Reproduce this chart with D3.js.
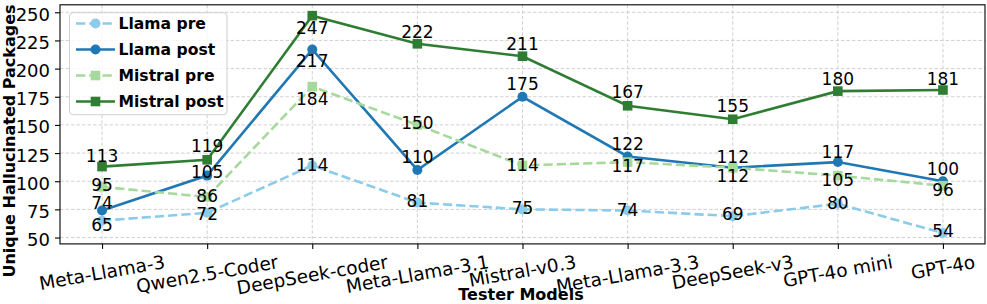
<!DOCTYPE html>
<html><head><meta charset="utf-8">
<script src="https://cdn.jsdelivr.net/npm/d3@7"></script>
<style>body{margin:0;background:#fff} svg{display:block} text{font-family:"DejaVu Sans"}</style>
</head><body><svg id="c" width="987" height="304"></svg>
<script>
const categories = ["Meta-Llama-3","Qwen2.5-Coder","DeepSeek-coder","Meta-Llama-3.1","Mistral-v0.3","Meta-Llama-3.3","DeepSeek-v3","GPT-4o mini","GPT-4o"];
const llamaPre    = [65, 72, 114, 81, 75, 74, 69, 80, 54];
const llamaPost   = [74, 105, 217, 110, 175, 122, 112, 117, 100];
const mistralPre  = [95, 86, 184, 150, 114, 117, 112, 105, 96];
const mistralPost = [113, 119, 247, 222, 211, 167, 155, 180, 181];
const yTicks = [50, 75, 100, 125, 150, 175, 200, 225, 250];
const seriesNames = ["Llama pre", "Llama post", "Mistral pre", "Mistral post"];

// label vertical offsets (px, relative to point) — styling only
const labelOffsets = [
  [4, 1, -1, -1.5, -2, -1, -2, -0.6, -2],
  [-8, -4, 11, -13, -12.7, -12.6, -10.6, -10.6, -12.3],
  [-1.6, -1, 12, -2, -1, 3.5, 7.6, 4.3, 4],
  [-11, -14, 12, -12, -12, -13.5, -13.2, -12.3, -11.5]
];
const styles = [
  {color: "#8ccbea", dash: "9.25,4", marker: "circle"},
  {color: "#1f77b4", dash: null, marker: "circle"},
  {color: "#a6d99c", dash: "9.25,4", marker: "square"},
  {color: "#2e7d32", dash: null, marker: "square"}
];
const series = [llamaPre, llamaPost, mistralPre, mistralPost];

const svg = d3.select("#c");
const L = 60, R = 985, T = 4.8, B = 243.9;
const yMin = 54, yMax = 247, m = (yMax - yMin) * 0.05;
const x = d3.scaleLinear().domain([-0.4, categories.length - 1 + 0.4]).range([L, R]);
const y = d3.scaleLinear().domain([yMin - m, yMax + m]).range([B, T]);

// grid
const grid = svg.append("g");
grid.selectAll(".gy").data(yTicks).join("line")
  .attr("x1", L).attr("x2", R).attr("y1", d => y(d)).attr("y2", d => y(d))
  .attr("stroke", "#cccccc").attr("stroke-width", 0.9).attr("stroke-dasharray", "3.5,2");
grid.selectAll(".gx").data(categories).join("line")
  .attr("x1", (d, i) => x(i)).attr("x2", (d, i) => x(i)).attr("y1", T).attr("y2", B)
  .attr("stroke", "#cccccc").attr("stroke-width", 0.9).attr("stroke-dasharray", "3.5,2");

// y axis
const yAxis = svg.append("g").attr("transform", `translate(${L},0)`)
  .call(d3.axisLeft(y).tickValues(yTicks).tickSize(5).tickPadding(5));
yAxis.select(".domain").remove();
yAxis.selectAll(".tick line").attr("stroke", "#000").attr("stroke-width", 1.1);
yAxis.selectAll(".tick text").attr("font-family", "DejaVu Sans").attr("font-size", 18)
  .attr("fill", "#000").attr("dy", null).attr("y", 8);

// x axis
const xAxis = svg.append("g").attr("transform", `translate(0,${B})`)
  .call(d3.axisBottom(x).tickValues(d3.range(categories.length)).tickSize(5).tickFormat(() => ""));
xAxis.select(".domain").remove();
xAxis.selectAll(".tick line").attr("stroke", "#000").attr("stroke-width", 1.1);

const xfs = 18.5, theta = 10 * Math.PI / 180, xTop = 251;
categories.forEach((c, i) => {
  const g = svg.append("g");
  const t = g.append("text").text(c).attr("font-size", xfs).attr("text-anchor", "middle").attr("fill", "#000");
  const w = t.node().getComputedTextLength();
  const h = xfs * 1.164;
  const H = w * Math.sin(theta) + h * Math.cos(theta);
  const cy = xTop + H / 2;
  g.attr("transform", `translate(${x(i)},${cy}) rotate(-10)`);
  t.attr("y", 0.346 * xfs);
});

// axis labels
svg.append("text").text("Tester Models").attr("x", 521).attr("y", 300)
  .attr("text-anchor", "middle").attr("font-weight", "bold").attr("font-size", 16);
svg.append("text").text("Unique Hallucinated Packages")
  .attr("transform", "translate(14.5,141) rotate(-90)")
  .attr("text-anchor", "middle").attr("font-weight", "bold").attr("font-size", 16);

// lines
const line = d3.line().x((d, i) => x(i)).y(d => y(d));
series.forEach((s, k) => {
  svg.append("path").datum(s).attr("d", line).attr("fill", "none")
    .attr("stroke", styles[k].color).attr("stroke-width", 2.6)
    .attr("stroke-dasharray", styles[k].dash);
  const mg = svg.append("g");
  if (styles[k].marker === "circle") {
    mg.selectAll("circle").data(s).join("circle")
      .attr("cx", (d, i) => x(i)).attr("cy", d => y(d)).attr("r", 5).attr("fill", styles[k].color);
  } else {
    mg.selectAll("rect").data(s).join("rect")
      .attr("x", (d, i) => x(i) - 4.8).attr("y", d => y(d) - 4.8)
      .attr("width", 9.6).attr("height", 9.6).attr("fill", styles[k].color);
  }
});

// data labels
const lfs = 17;
series.forEach((s, k) => {
  svg.append("g").selectAll("text").data(s).join("text")
    .attr("x", (d, i) => x(i))
    .attr("y", (d, i) => y(d) + labelOffsets[k][i] + 0.3645 * lfs)
    .attr("text-anchor", "middle").attr("font-size", lfs).attr("fill", "#000")
    .text(d => d);
});

// frame
svg.append("rect").attr("x", L).attr("y", T).attr("width", R - L).attr("height", B - T)
  .attr("fill", "none").attr("stroke", "#000").attr("stroke-width", 1.1);

// legend
const lg = svg.append("g");
lg.append("rect").attr("x", 69.5).attr("y", 12.7).attr("width", 157.5).attr("height", 102)
  .attr("rx", 3.5).attr("fill", "#fff").attr("fill-opacity", 0.8)
  .attr("stroke", "#d0d0d0").attr("stroke-width", 1);
seriesNames.forEach((n, k) => {
  const cy = 23.5 + k * 26;
  lg.append("line").attr("x1", 76).attr("x2", 115).attr("y1", cy).attr("y2", cy)
    .attr("stroke", styles[k].color).attr("stroke-width", 2.6).attr("stroke-dasharray", styles[k].dash);
  if (styles[k].marker === "circle") {
    lg.append("circle").attr("cx", 95.5).attr("cy", cy).attr("r", 5).attr("fill", styles[k].color);
  } else {
    lg.append("rect").attr("x", 95.5 - 4.8).attr("y", cy - 4.8).attr("width", 9.6).attr("height", 9.6)
      .attr("fill", styles[k].color);
  }
  lg.append("text").text(n).attr("x", 118.5).attr("y", cy + 5.6)
    .attr("font-weight", "bold").attr("font-size", 15.6).attr("fill", "#000");
});
</script></body></html>
